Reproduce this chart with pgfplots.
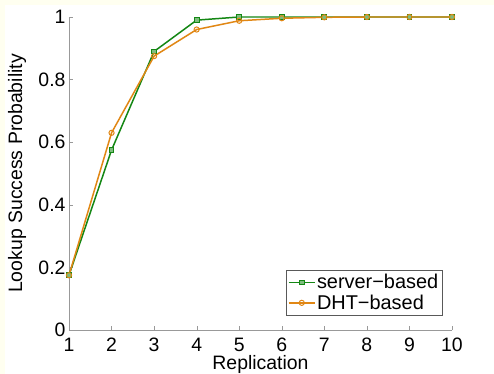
\documentclass[border=0pt]{standalone}
\usepackage{pgfplots}
\pgfplotsset{compat=1.18}
\usepackage{fontspec}
\setmainfont{Liberation Sans}
\definecolor{bgc}{RGB}{255,255,240}
\definecolor{sgreen}{RGB}{20,135,20}
\definecolor{dorange}{RGB}{225,135,20}
\begin{document}
\begin{tikzpicture}
\fill[bgc] (-69bp,-44bp) rectangle (425bp,330bp);
\fill[white] (-64bp,-44bp) rectangle (425bp,325bp);
\useasboundingbox (-69bp,-44bp) rectangle (425bp,330bp);
\begin{axis}[
  at={(0,0)}, anchor=south west,
  scale only axis, width=383bp, height=313bp,
  xmin=1, xmax=10, ymin=0, ymax=1,
  axis x line*=bottom, axis y line*=left,
  axis line style={gray!80, -},
  xtick={1,...,10}, ytick={0,0.2,0.4,0.6,0.8,1},
  tick style={gray!80, major tick length=4bp},
  tick align=inside,
  /pgf/number format/assume math mode=true,
  ticklabel style={font=\fontsize{19.5}{21}\selectfont},
  xticklabel style={anchor=base, yshift=-21.5bp, inner ysep=0bp},
  xlabel={Replication}, ylabel={Lookup Success Probability},
  label style={font=\fontsize{19.5}{21}\selectfont},
  xlabel style={at={(axis description cs:0.5,0)}, anchor=base, yshift=-39.5bp, inner ysep=0bp},
  ylabel style={at={(axis description cs:0,0.5)}, anchor=center, yshift=52bp},
  legend style={at={(1,0)}, anchor=south east, xshift=-10bp, yshift=15bp,
    font=\fontsize{20}{22}\selectfont, draw=gray!70!black, row sep=1.5bp,
    inner xsep=2bp, inner ysep=2.5bp, nodes={inner xsep=1.5bp, inner ysep=1.5bp}},
  legend cell align=left,
  legend image code/.code={\draw[#1] (0bp,0bp) -- (26bp,0bp); \draw[#1,mark repeat=2,mark phase=2] plot coordinates {(0bp,0bp) (13bp,0bp) (26bp,0bp)};},
]
\addplot[sgreen, line width=1.5pt, mark=square*, mark size=2.4pt, mark options={fill=sgreen!55!white, line width=1pt}]
  coordinates {(1,0.175) (2,0.575) (3,0.89) (4,0.99) (5,1.0) (6,1.0) (7,1.0) (8,1.0) (9,1.0) (10,1.0)};
\addlegendentry{server−based}
\addplot[dorange, line width=1.5pt, mark=o, mark size=2.6pt, mark options={line width=1pt}]
  coordinates {(1,0.175) (2,0.63) (3,0.875) (4,0.96) (5,0.988) (6,0.996) (7,0.999) (8,1.0) (9,1.0) (10,1.0)};
\addlegendentry{DHT−based}
\end{axis}
\end{tikzpicture}
\end{document}
